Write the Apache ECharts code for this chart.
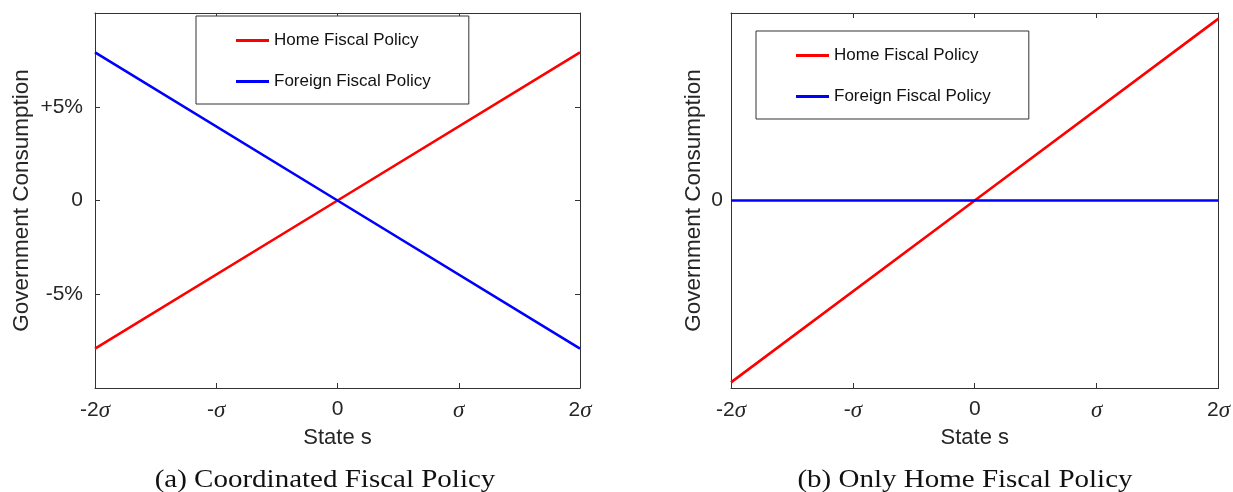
<!DOCTYPE html>
<html>
<head>
<meta charset="utf-8">
<script src="https://cdn.jsdelivr.net/npm/echarts@6/dist/echarts.min.js"></script>
<style>html,body{margin:0;padding:0;background:#fff;}#c{width:1233px;height:492px;}</style>
</head>
<body>
<div id="c"></div>
<script>
const states = [-2, 0, 2];
const homeA = [-7.9, 0, 7.9];
const foreignA = [7.9, 0, -7.9];
const homeB = [-9.7, 0, 9.7];
const foreignB = [0, 0, 0];
const xTickValues = [-2, -1, 0, 1, 2];
const xTickLabels = ['-2σ', '-σ', '0', 'σ', '2σ'];
const yTickValuesA = [-5, 0, 5];
const yTickLabelsA = ['-5%', '0', '+5%'];
const yTickValuesB = [0];
const yTickLabelsB = ['0'];
const seriesNames = ['Home Fiscal Policy', 'Foreign Fiscal Policy'];
const captions = ['(a) Coordinated Fiscal Policy', '(b) Only Home Fiscal Policy'];

const AX = '#333333';
const SANS = 'Liberation Sans, Arial, sans-serif';

function xFmt(v) {
  const i = xTickValues.indexOf(v);
  if (i < 0) return '';
  const l = xTickLabels[i];
  if (l.indexOf('σ') >= 0) {
    const p = l.replace('σ', '');
    return (p ? '{a|' + p + '}' : '') + '{s|σ}';
  }
  return '{a|' + l + '}';
}
function yFmt(vals, labs) {
  return function (v) {
    const i = vals.indexOf(v);
    return i < 0 ? '' : labs[i];
  };
}
const richX = {
  a: { fontFamily: SANS, fontSize: 21, color: '#262626' },
  s: { fontFamily: 'Liberation Serif, serif', fontStyle: 'italic', fontSize: 23, color: '#262626' }
};

function xAxes(gi) {
  return [
    {
      type: 'value', gridIndex: gi, min: -2, max: 2, interval: 1, position: 'bottom',
      name: 'State s', nameLocation: 'middle', nameGap: 37,
      nameTextStyle: { fontFamily: SANS, fontSize: 22, color: '#262626' },
      axisLine: { show: true, onZero: false, lineStyle: { color: AX, width: 1 } },
      axisTick: { show: true, inside: true, length: 5, lineStyle: { color: AX } },
      axisLabel: { margin: 11, formatter: xFmt, rich: richX },
      splitLine: { show: false }
    },
    {
      type: 'value', gridIndex: gi, min: -2, max: 2, interval: 1, position: 'top',
      axisLine: { show: true, onZero: false, lineStyle: { color: AX, width: 1 } },
      axisTick: { show: true, inside: true, length: 5, lineStyle: { color: AX } },
      axisLabel: { show: false },
      splitLine: { show: false }
    }
  ];
}
function yAxes(gi, interval, vals, labs, gap, margin) {
  return [
    {
      type: 'value', gridIndex: gi, min: -10, max: 10, interval: interval, position: 'left',
      name: 'Government Consumption', nameLocation: 'middle', nameGap: gap, nameRotate: 90,
      nameTextStyle: { fontFamily: SANS, fontSize: 22.5, color: '#262626' },
      axisLine: { show: true, onZero: false, lineStyle: { color: AX, width: 1 } },
      axisTick: { show: true, inside: true, length: 5, lineStyle: { color: AX } },
      axisLabel: { margin: margin, formatter: yFmt(vals, labs), fontFamily: SANS, fontSize: 21, color: '#262626' },
      splitLine: { show: false }
    },
    {
      type: 'value', gridIndex: gi, min: -10, max: 10, interval: interval, position: 'right',
      axisLine: { show: true, onZero: false, lineStyle: { color: AX, width: 1 } },
      axisTick: { show: true, inside: true, length: 5, lineStyle: { color: AX } },
      axisLabel: { show: false },
      splitLine: { show: false }
    }
  ];
}
function pairs(xs, ys) { return xs.map((x, i) => [x, ys[i]]); }
function line(name, gi, data, color) {
  return {
    type: 'line', name: name, xAxisIndex: gi * 2, yAxisIndex: gi * 2, data: data,
    showSymbol: false, symbol: 'none', lineStyle: { color: color, width: 2.6 }, itemStyle: { color: color },
    clip: true, animation: false
  };
}
function legend(left, top) {
  return {
    orient: 'vertical', left: left, top: top, data: seriesNames,
    icon: 'rect', itemWidth: 33, itemHeight: 3, itemGap: 24,
    padding: [16, 38, 14, 40],
    borderColor: '#333', borderWidth: 1, backgroundColor: '#fff',
    textStyle: { fontFamily: SANS, fontSize: 17, color: '#111', lineHeight: 16 },
    selectedMode: false
  };
}

const chart = echarts.init(document.getElementById('c'), null, { renderer: 'canvas' });
chart.setOption({
  animation: false,
  backgroundColor: '#fff',
  grid: [
    { left: 95, top: 13, width: 485, height: 375 },
    { left: 731, top: 13, width: 488, height: 375 }
  ],
  xAxis: xAxes(0).concat(xAxes(1)),
  yAxis: yAxes(0, 5, yTickValuesA, yTickLabelsA, 62, 12).concat(yAxes(1, 10, yTickValuesB, yTickLabelsB, 26, 8)),
  legend: [legend(196, 16), legend(756, 31)],
  series: [
    line(seriesNames[0], 0, pairs(states, homeA), '#ff0000'),
    line(seriesNames[1], 0, pairs(states, foreignA), '#0000ff'),
    line(seriesNames[0], 1, pairs(states, homeB), '#ff0000'),
    line(seriesNames[1], 1, pairs(states, foreignB), '#0000ff')
  ],
  graphic: [
    { type: 'text', x: 325, y: 480, scaleX: 1.16, style: { text: captions[0], textAlign: 'center', textVerticalAlign: 'middle', font: '25px "Liberation Serif", serif', fill: '#111' } },
    { type: 'text', x: 965, y: 480, scaleX: 1.16, style: { text: captions[1], textAlign: 'center', textVerticalAlign: 'middle', font: '25px "Liberation Serif", serif', fill: '#111' } }
  ]
});
</script>
</body>
</html>
